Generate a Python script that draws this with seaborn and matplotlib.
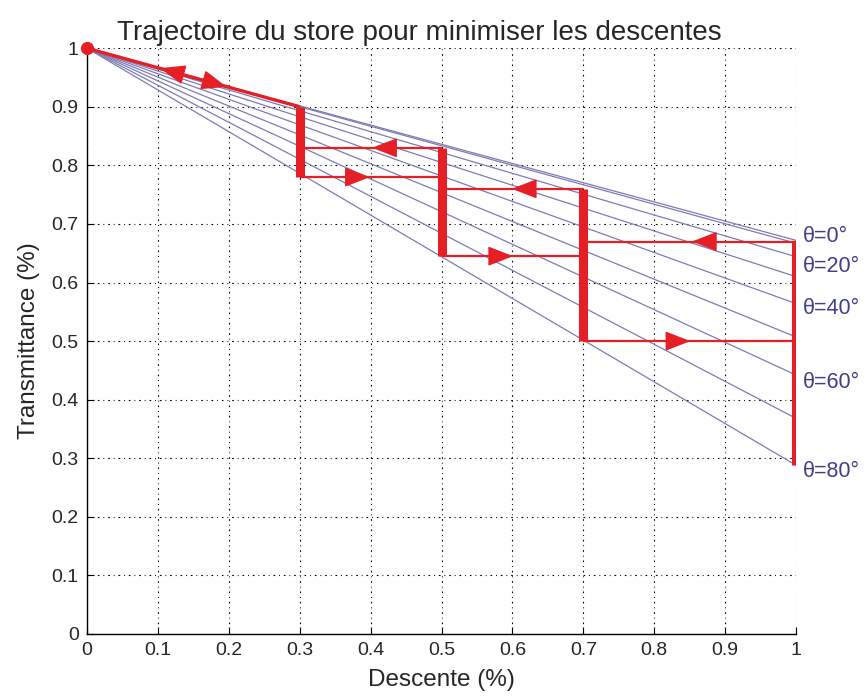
import numpy as np
import pandas as pd
import matplotlib
matplotlib.use('Agg')
import matplotlib.pyplot as plt
import seaborn as sns

# transmittance at full descent for each slat angle
thetas = [0, 10, 20, 30, 40, 50, 60, 70, 80]
trans_end = [0.672, 0.667, 0.644, 0.610, 0.564, 0.507, 0.442, 0.368, 0.288]
labelled = [0, 20, 40, 60, 80]
label_nudge = {0: 0.006, 20: -0.016, 40: -0.008, 60: -0.012, 80: -0.010}

# trajectory of the blind (steps)
step_x = [0.3, 0.5, 0.7, 1.0]
step_top = [0.90, 0.83, 0.76, 0.67]
step_bottom = [0.78, 0.645, 0.50, 0.288]
diag_x = [0.0, 0.3]
diag_y = [1.0, 0.9]

# arrow heads: (x_base, y_base, x_tip, y_tip)
arrows = [
    (0.133, 0.956, 0.103, 0.966),
    (0.166, 0.945, 0.197, 0.934),
    (0.432, 0.83, 0.402, 0.83),
    (0.369, 0.78, 0.399, 0.78),
    (0.632, 0.76, 0.599, 0.76),
    (0.568, 0.645, 0.601, 0.645),
    (0.883, 0.67, 0.853, 0.67),
    (0.820, 0.50, 0.851, 0.50),
]

RED = '#e61e25'
BLUE = '#7c7cb4'
LABEL = '#40408a'

sns.set_style('white')
plt.rcParams['font.family'] = ['Liberation Sans', 'DejaVu Sans']

fig = plt.figure(figsize=(8.68, 6.99), dpi=100)
ax = fig.add_axes([0.1002, 0.093, 0.817, 0.838])

# fan of blue lines
rows = []
for th, te in zip(thetas, trans_end):
    rows.append({'theta': th, 'x': 0.0, 'y': 1.0})
    rows.append({'theta': th, 'x': 1.0, 'y': te})
fan = pd.DataFrame(rows)
sns.lineplot(data=fan, x='x', y='y', units='theta', estimator=None,
             color=BLUE, lw=0.9, ax=ax, zorder=2)

for th, te in zip(thetas, trans_end):
    if th in labelled:
        ax.text(1.01, te + label_nudge[th], '\u03b8=%d\u00b0' % th, color=LABEL,
                fontsize=15.5, va='center', ha='left', clip_on=False)

# red trajectory
seg = []
k = 0
seg.append(pd.DataFrame({'x': diag_x, 'y': diag_y, 'seg': k, 'w': 'diag'}))
for i in range(len(step_x)):
    k += 1
    seg.append(pd.DataFrame({'x': [step_x[i]] * 2, 'y': [step_top[i], step_bottom[i]],
                             'seg': k, 'w': 'vert'}))
    if i + 1 < len(step_x):
        k += 1
        seg.append(pd.DataFrame({'x': [step_x[i], step_x[i + 1]],
                                 'y': [step_top[i + 1]] * 2, 'seg': k, 'w': 'hor'}))
        k += 1
        seg.append(pd.DataFrame({'x': [step_x[i], step_x[i + 1]],
                                 'y': [step_bottom[i]] * 2, 'seg': k, 'w': 'hor'}))
path = pd.concat(seg)
for kind, lw in [('hor', 1.6), ('diag', 2.4), ('vert', 6.5)]:
    sub = path[path['w'] == kind]
    sns.lineplot(data=sub, x='x', y='y', units='seg', estimator=None, sort=False,
                 color=RED, lw=lw, ax=ax, zorder=4, solid_capstyle='butt')

ax.plot([diag_x[0]], [diag_y[0]], 'o', color=RED, ms=8.5, zorder=5, clip_on=False)

for xb, yb, xt, yt in arrows:
    ax.annotate('', xy=(xt, yt), xytext=(xb, yb), zorder=6,
                arrowprops=dict(arrowstyle='-|>,head_length=1.6,head_width=0.62',
                                color=RED, lw=1.0, shrinkA=0, shrinkB=0,
                                mutation_scale=10))

ticks = np.round(np.arange(0, 1.01, 0.1), 1)
labels = ['0'] + ['%.1f' % t for t in ticks[1:-1]] + ['1']
ax.set_xlim(0, 1)
ax.set_ylim(0, 1)
ax.set_xticks(ticks)
ax.set_yticks(ticks)
ax.set_xticklabels(labels, fontsize=14)
ax.set_yticklabels(labels, fontsize=14)
ax.tick_params(direction='in', length=5, width=0.8, color='black', pad=6,
               bottom=True, left=True)
ax.grid(True, color='black', linestyle=(0, (1.5, 3.5, 0.8, 3.5)), lw=0.8)
ax.set_axisbelow(True)
for s in ['top', 'right']:
    ax.spines[s].set_visible(False)
for s in ['left', 'bottom']:
    ax.spines[s].set_color('black')
    ax.spines[s].set_linewidth(1.0)

ax.set_xlabel('Descente (%)', fontsize=17.5, labelpad=7)
ax.set_ylabel('Transmittance (%)', fontsize=17.5, labelpad=8)
ax.set_title('Trajectoire du store pour minimiser les descentes', fontsize=20,
             x=0.468, pad=6)

fig.savefig('out.png', dpi=100)
